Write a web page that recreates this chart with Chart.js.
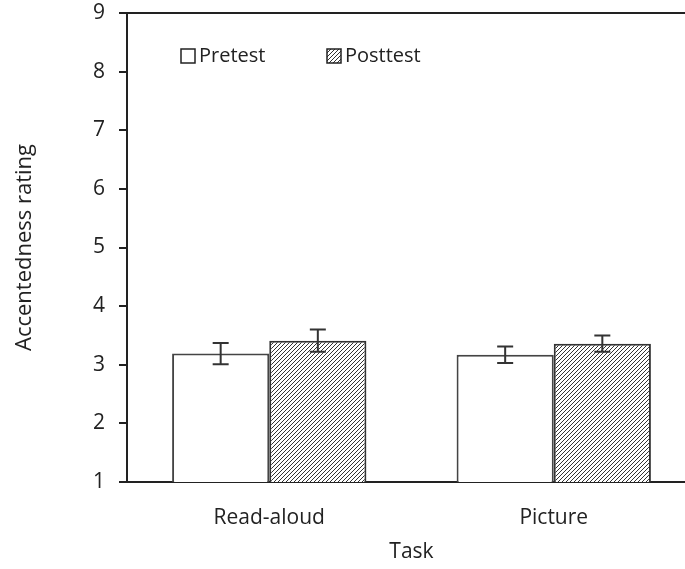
<!DOCTYPE html>
<html>
<head>
<meta charset="utf-8">
<script src="https://cdn.jsdelivr.net/npm/chart.js@4"></script>
<style>
  html, body { margin: 0; padding: 0; background: #fff; overflow: hidden; }
  #wrap { width: 700px; height: 569px; }
</style>
</head>
<body>
<div id="wrap"><canvas id="chartRating" width="700" height="569"></canvas></div>
<script>
// data
const tasks = ["Read-aloud", "Picture"];
const pretest = [3.19, 3.17];
const posttest = [3.41, 3.36];
const pretestErr = [0.18, 0.14];
const posttestErr = [0.19, 0.14];
const yTicks = [1, 2, 3, 4, 5, 6, 7, 8, 9];

const FONT = "'Open Sans', sans-serif";
const INK = "#222";

// diagonal hatch fill
function hatch() {
    const c = document.createElement("canvas");
    c.width = 4;
    c.height = 4;
    const g = c.getContext("2d");
    g.fillStyle = "#fff";
    g.fillRect(0, 0, 4, 4);
    g.strokeStyle = "#333";
    g.lineWidth = 1;
    g.beginPath();
    g.moveTo(-1, 5);
    g.lineTo(5, -1);
    g.moveTo(-1, 1);
    g.lineTo(1, -1);
    g.moveTo(3, 5);
    g.lineTo(5, 3);
    g.stroke();
    return g.createPattern(c, "repeat");
}

const errorBars = {
    id: "errorBars",
    afterDatasetsDraw(chart) {
        const ctx = chart.ctx;
        const y = chart.scales.y;
        ctx.save();
        ctx.strokeStyle = "#333";
        ctx.lineWidth = 2;
        chart.data.datasets.forEach((ds, i) => {
            chart.getDatasetMeta(i).data.forEach((bar, j) => {
                const v = ds.data[j];
                const e = ds.errors[j];
                const top = y.getPixelForValue(v + e);
                const bot = y.getPixelForValue(v - e);
                ctx.beginPath();
                ctx.moveTo(bar.x, top);
                ctx.lineTo(bar.x, bot);
                ctx.moveTo(bar.x - 8, top);
                ctx.lineTo(bar.x + 8, top);
                ctx.moveTo(bar.x - 8, bot);
                ctx.lineTo(bar.x + 8, bot);
                ctx.stroke();
            });
        });
        ctx.restore();
    },
};

// top frame line + legend inside the plot
const frame = {
    id: "frame",
    afterDraw(chart) {
        const ctx = chart.ctx;
        const a = chart.chartArea;
        ctx.save();
        ctx.strokeStyle = INK;
        ctx.lineWidth = 2;
        ctx.beginPath();
        ctx.moveTo(a.left - 8, a.top);
        ctx.lineTo(a.right, a.top);
        ctx.stroke();

        ctx.font = "20px " + FONT;
        ctx.fillStyle = INK;
        ctx.textBaseline = "middle";
        const ly = a.top + 43;
        let lx = a.left + 54;
        chart.data.datasets.forEach((ds, i) => {
            ctx.fillStyle = ds.backgroundColor;
            ctx.fillRect(lx, ly - 7, 14, 14);
            ctx.strokeStyle = INK;
            ctx.lineWidth = 1.5;
            ctx.strokeRect(lx, ly - 7, 14, 14);
            ctx.fillStyle = INK;
            ctx.fillText(ds.label, lx + 18, ly);
            lx += 146;
        });
        ctx.restore();
    },
};

const ctx = document.getElementById("chartRating").getContext("2d");
new Chart(ctx, {
    type: "bar",
    data: {
        labels: tasks,
        datasets: [
            {
                label: "Pretest",
                data: pretest,
                errors: pretestErr,
                backgroundColor: "#fff",
                borderColor: "#444",
                borderWidth: 2,
            },
            {
                label: "Posttest",
                data: posttest,
                errors: posttestErr,
                backgroundColor: hatch(),
                borderColor: "#333",
                borderWidth: 2,
            },
        ],
    },
    options: {
        responsive: false,
        animation: false,
        devicePixelRatio: 1,
        categoryPercentage: 0.683,
        barPercentage: 1,
        layout: {
            padding: { top: 13, right: 4, left: 0, bottom: 0 },
        },
        plugins: {
            legend: { display: false },
            tooltip: { enabled: false },
        },
        scales: {
            x: {
                grid: { display: false },
                border: { color: INK, width: 2 },
                ticks: {
                    color: INK,
                    font: { family: FONT, size: 21 },
                    padding: 15,
                },
                title: {
                    display: true,
                    text: "Task",
                    color: INK,
                    font: { family: FONT, size: 21 },
                    padding: { top: 11 },
                },
                afterFit(scale) {
                    scale.height = 87;
                    scale.paddingLeft = 0;
                    scale.paddingRight = 0;
                },
            },
            y: {
                min: 1,
                max: 9,
                afterBuildTicks(scale) {
                    scale.ticks = yTicks.map((v) => ({ value: v }));
                },
                grid: {
                    drawOnChartArea: false,
                    drawTicks: true,
                    tickLength: 8,
                    color: INK,
                    lineWidth: 2,
                },
                border: { color: INK, width: 2 },
                ticks: {
                    color: INK,
                    font: { family: FONT, size: 21 },
                    padding: 14,
                },
                title: {
                    display: true,
                    text: "Accentedness rating",
                    color: INK,
                    font: { family: FONT, size: 22 },
                    padding: { top: 12, bottom: 4 },
                },
                afterFit(scale) {
                    scale.width = 127;
                    scale.paddingTop = 0;
                    scale.paddingBottom = 0;
                },
            },
        },
    },
    plugins: [errorBars, frame],
});
</script>
</body>
</html>
